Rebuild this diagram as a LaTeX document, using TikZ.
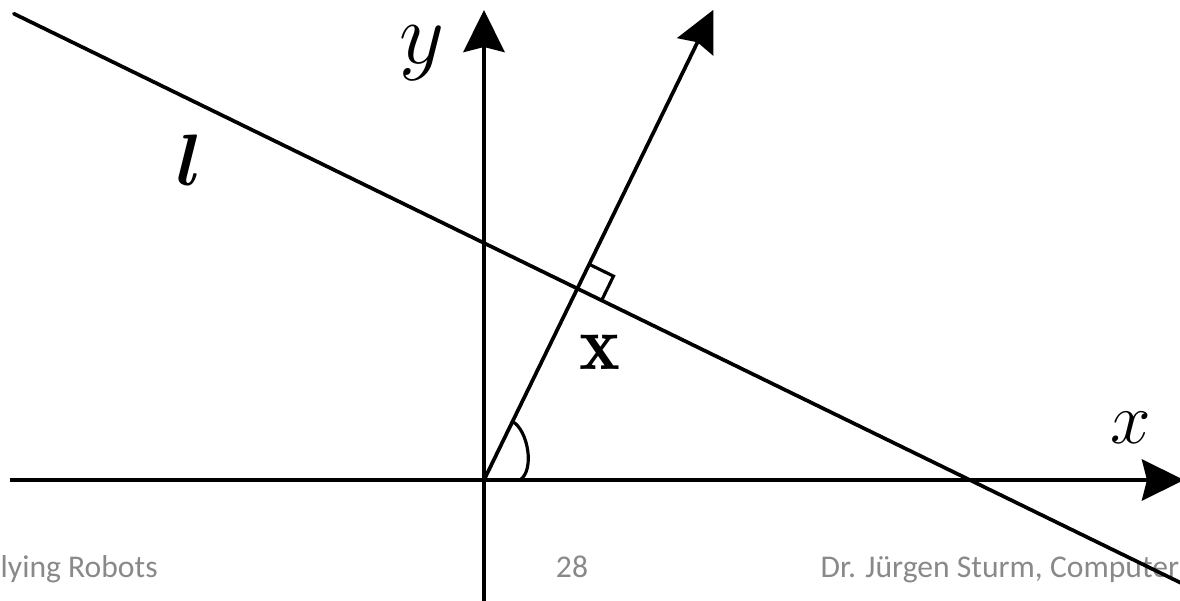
\documentclass[tikz,border=0pt]{standalone}
\usepackage{fontspec}
\newfontfamily\footerfont{Carlito}
\usepackage{tikz}
\usetikzlibrary{arrows.meta, calc}
\definecolor{footergray}{RGB}{137,137,137}

\begin{document}
\begin{tikzpicture}[
  axis/.style={line width=1.4pt, -{Stealth[length=4.2mm, width=4.1mm, inset=0.5mm]}},
  ray/.style={line width=1.05pt, -{Stealth[length=4.1mm, width=4mm, inset=0.5mm]}},
  thinline/.style={line width=1.05pt, line cap=round},
  rightangle/.style={line width=0.9pt},
  footer/.style={anchor=base west, inner sep=0pt, text=footergray, font=\footerfont\fontsize{9}{11}\selectfont},
  lab/.style={inner sep=0pt}
]
\useasboundingbox (-4.84,-1.2) rectangle (6.96,4.8);
\clip (-4.84,-1.2) rectangle (6.96,4.8);

% points
\coordinate (O) at (0,0);
\coordinate (xstart) at (-4.74,0);
\coordinate (xtip) at (7.0,0);
\coordinate (ybot) at (0,-1.3);
\coordinate (ytip) at (0,4.70);
\coordinate (ntip) at (64:5.23);
\coordinate (F) at (64:2.13);
\coordinate (lA) at ($(F)+(154:6.27)$);
\coordinate (lB) at ($(F)+(-26:7.2)$);
\coordinate (a1) at (64:0.65);
\coordinate (a2) at (0.36,0);

% footer
\node[footer] (ftleft) at (-4.84,-0.97) {lying Robots};
\node[footer, anchor=base] (ftpage) at (0.88,-0.97) {28};
\node[footer] (ftright) at (3.36,-0.97) {Dr. Jürgen Sturm, Computer};

% axes
\draw[axis] (xstart) -- (xtip);
\draw[axis] (ybot) -- (ytip);

% line l and normal
\draw[thinline] (lA) -- (lB);
\draw[ray] (O) -- (ntip);
\draw[rightangle] ($(F)!0.27cm!(ntip)$) -- ++(-26:0.27) -- ($(F)!0.27cm!(lB)$);
\draw[rightangle] (a1) .. controls (0.44,0.50) and (0.51,0.10) .. (a2);

% labels
\node[lab, font=\fontsize{25}{28}\selectfont] (ylab) at (-0.62,4.27) {$y$};
\node[lab, font=\fontsize{22}{26}\selectfont\boldmath] (llab) at (-2.94,3.20) {$l$};
\node[lab, font=\fontsize{22}{26}\selectfont] (xvec) at (1.16,1.28) {$\mathbf{x}$};
\node[lab, font=\fontsize{22}{26}\selectfont] (xlab) at (6.47,0.52) {$x$};
\end{tikzpicture}
\end{document}
